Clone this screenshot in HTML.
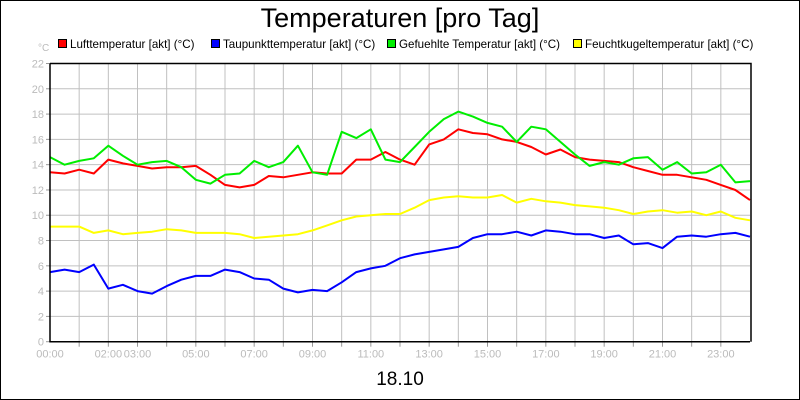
<!DOCTYPE html>
<html><head><meta charset="utf-8"><style>
html,body{margin:0;padding:0;background:#fff}
#wrap{width:798px;height:398px;border:1px solid #000;position:relative;overflow:hidden;font-family:"Liberation Sans",sans-serif}
</style></head><body>
<div id="wrap">
<svg id="chart" width="798" height="398" viewBox="1 1 798 398" xmlns="http://www.w3.org/2000/svg" style="position:absolute;left:0;top:0">
<text x="400" y="27" text-anchor="middle" font-size="27" fill="#000">Temperaturen [pro Tag]</text>
<text x="38" y="51" font-size="10" fill="#bbb">°C</text>
<g id="legend"></g>
<g id="grid"></g>
<g id="series"></g>
<g id="axes"></g>
<text x="400" y="385" text-anchor="middle" font-size="19" fill="#000">18.10</text>
</svg>
</div>
<script>
const hours = [0,0.5,1,1.5,2,2.5,3,3.5,4,4.5,5,5.5,6,6.5,7,7.5,8,8.5,9,9.5,10,10.5,11,11.5,12,12.5,13,13.5,14,14.5,15,15.5,16,16.5,17,17.5,18,18.5,19,19.5,20,20.5,21,21.5,22,22.5,23,23.5,24];
const luft = [13.4,13.3,13.6,13.3,14.4,14.1,13.9,13.7,13.8,13.8,13.9,13.2,12.4,12.2,12.4,13.1,13.0,13.2,13.4,13.3,13.3,14.4,14.4,15.0,14.4,14.0,15.6,16.0,16.8,16.5,16.4,16.0,15.8,15.4,14.8,15.2,14.6,14.4,14.3,14.2,13.8,13.5,13.2,13.2,13.0,12.8,12.4,12.0,11.2];
const taupunkt = [5.5,5.7,5.5,6.1,4.2,4.5,4.0,3.8,4.4,4.9,5.2,5.2,5.7,5.5,5.0,4.9,4.2,3.9,4.1,4.0,4.7,5.5,5.8,6.0,6.6,6.9,7.1,7.3,7.5,8.2,8.5,8.5,8.7,8.4,8.8,8.7,8.5,8.5,8.2,8.4,7.7,7.8,7.4,8.3,8.4,8.3,8.5,8.6,8.3];
const gefuehlt = [14.6,14.0,14.3,14.5,15.5,14.7,14.0,14.2,14.3,13.8,12.8,12.5,13.2,13.3,14.3,13.8,14.2,15.5,13.4,13.2,16.6,16.1,16.8,14.4,14.2,15.4,16.6,17.6,18.2,17.8,17.3,17.0,15.8,17.0,16.8,15.8,14.8,13.9,14.2,14.0,14.5,14.6,13.6,14.2,13.3,13.4,14.0,12.6,12.7];
const feucht = [9.1,9.1,9.1,8.6,8.8,8.5,8.6,8.7,8.9,8.8,8.6,8.6,8.6,8.5,8.2,8.3,8.4,8.5,8.8,9.2,9.6,9.9,10.0,10.1,10.1,10.6,11.2,11.4,11.5,11.4,11.4,11.6,11.0,11.3,11.1,11.0,10.8,10.7,10.6,10.4,10.1,10.3,10.4,10.2,10.3,10.0,10.3,9.8,9.6];
const yTicks = [0,2,4,6,8,10,12,14,16,18,20,22];
const xTickLabels = ["00:00","02:00","03:00","05:00","07:00","09:00","11:00","13:00","15:00","17:00","19:00","21:00","23:00"];
const xTickHours = [0,2,3,5,7,9,11,13,15,17,19,21,23];
const seriesNames = ["Lufttemperatur [akt] (°C)","Taupunkttemperatur [akt] (°C)","Gefuehlte Temperatur [akt] (°C)","Feuchtkugeltemperatur [akt] (°C)"];
const seriesColors = ["#f00","#00f","#0e0","#ff0"];

const NS="http://www.w3.org/2000/svg";
const X0=50,X1=750,Y0=341.7,Y1=63.5,YMAX=22;
const xs=h=>X0+(X1-X0)*h/24;
const ys=v=>Y0-(Y0-Y1)*v/YMAX;
function mk(tag,attrs,parent){const e=document.createElementNS(NS,tag);for(const k in attrs)e.setAttribute(k,attrs[k]);parent.appendChild(e);return e;}
const grid=document.getElementById('grid'),axes=document.getElementById('axes'),ser=document.getElementById('series'),leg=document.getElementById('legend');
for(let h=1;h<24;h++){const l=mk('line',{x1:xs(h),x2:xs(h),y1:Y1,y2:Y0,stroke:'#c0c0c0','stroke-width':1},grid);


const t=mk('line',{x1:xs(h),x2:xs(h),y1:Y0,y2:Y0+5,stroke:'#999','stroke-width':1},axes);

}
yTicks.forEach(v=>{if(v>0){const l=mk('line',{x1:X0,x2:X1,y1:ys(v),y2:ys(v),stroke:'#c0c0c0','stroke-width':1},grid);

}
const t=mk('text',{x:X0-6,y:ys(v)+4,'text-anchor':'end','font-size':11,fill:'#bbb'},axes);t.textContent=v;


const tk=mk('line',{x1:X0-4,x2:X0,y1:ys(v),y2:ys(v),stroke:'#999'},axes);

});
xTickLabels.forEach((s,i)=>{const t=mk('text',{x:xs(xTickHours[i]),y:Y0+16,'text-anchor':'middle','font-size':11,fill:'#bbb'},axes);t.textContent=s;

});
const frame=mk('path',{d:`M${X0},${Y1}H${X1+1}V${Y0}`,fill:'none',stroke:'#000','stroke-width':1.5},axes);


const ax=mk('path',{d:`M${X0},${Y1}V${Y0}H${X1}`,fill:'none',stroke:'#000','stroke-width':1.5},axes);


const data=[luft,taupunkt,gefuehlt,feucht];
const order=[3,1,0,2];
const snames=['air-temperature-line','dew-point-line','felt-temperature-line','wet-bulb-line'];
order.forEach(i=>{const d=data[i].map((v,j)=>(j?'L':'M')+xs(hours[j]).toFixed(1)+','+ys(v).toFixed(1)).join('');
const p=mk('path',{d:d,fill:'none',stroke:seriesColors[i],'stroke-width':2,'stroke-linejoin':'round'},ser);

});
const lx=[58,211,387,573];
seriesNames.forEach((n,i)=>{const r=mk('rect',{x:lx[i]+0.5,y:39.5,width:8,height:8,fill:seriesColors[i],stroke:'#000','stroke-width':1},leg);


const t=mk('text',{x:lx[i]+12,y:48,'font-size':11.6,fill:'#000'},leg);t.textContent=n;

});
</script>
</body></html>
